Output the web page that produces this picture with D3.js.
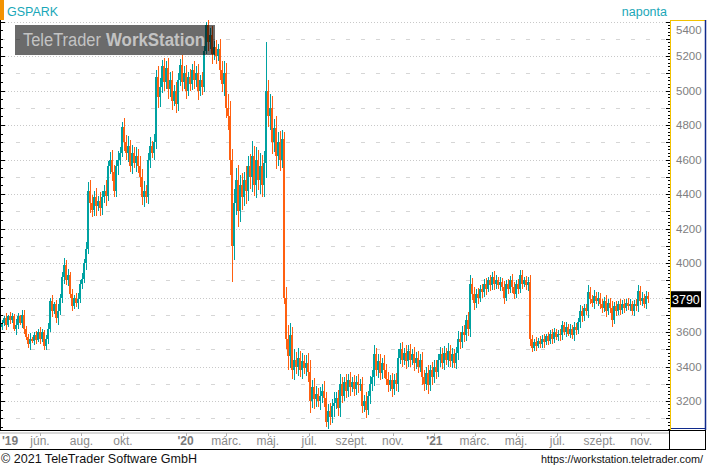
<!DOCTYPE html>
<html><head><meta charset="utf-8">
<script src="https://cdn.jsdelivr.net/npm/d3@7/dist/d3.min.js"></script>
<style>html,body{margin:0;padding:0;background:#fff;}svg{display:block;}</style>
</head><body>
<script>
// ---- DATA ----
const symbol = "GSPARK";
const period = "naponta";
const lastValue = 3790;
const startDate = new Date(2019, 3, 6);   // first bar
const stepDays = 2.94;                    // spacing between bars
const closes = [
3650,3680,3640,3690,3670,3690,3620,3640,3690,3650,
3700,3620,3570,3530,3560,3545,3580,3555,3600,3560,
3600,3520,3560,3620,3780,3720,3760,3680,3720,3800,
3920,3990,3900,3930,3820,3750,3800,3770,3790,3880,
3910,4000,4080,4420,4350,4310,4380,4330,4360,4320,
4380,4420,4390,4560,4600,4530,4420,4560,4600,4640,
4790,4700,4640,4680,4560,4640,4580,4620,4560,4500,
4380,4420,4380,4600,4680,4640,4700,5080,4960,5020,
5140,5050,5130,5010,5060,4940,5000,4920,5060,5150,
5050,5100,5000,5080,5040,5120,5060,5100,5000,5060,
5020,5230,5380,5280,5320,5210,5250,5200,5240,5120,
5040,5100,4900,4850,4600,4100,4350,4480,4300,4450,
4380,4480,4420,4560,4500,4620,4450,4600,4480,4560,
4450,4580,5000,4850,4900,4700,4780,4620,4700,4600,
4720,3800,3560,3460,3580,3380,3440,3400,3450,3380,
3430,3390,3420,3370,3200,3280,3210,3240,3200,3230,
3260,3220,3080,3140,3110,3170,3190,3220,3160,3300,
3230,3310,3260,3320,3280,3310,3270,3310,3290,3300,
3170,3200,3150,3230,3300,3340,3470,3380,3430,3360,
3420,3380,3330,3290,3320,3270,3320,3300,3450,3500,
3440,3480,3430,3490,3440,3470,3420,3450,3400,3440,
3340,3300,3360,3290,3380,3340,3400,3370,3440,3470,
3420,3480,3440,3490,3430,3470,3420,3480,3560,3540,
3600,3580,3670,3620,3880,3820,3770,3820,3800,3850,
3830,3880,3850,3900,3870,3920,3880,3900,3870,3890,
3860,3800,3880,3850,3900,3860,3820,3880,3850,3930,
3880,3900,3870,3890,3560,3510,3540,3520,3550,3530,
3560,3540,3575,3550,3590,3560,3600,3570,3590,3580,
3640,3600,3630,3590,3620,3580,3630,3610,3660,3720,
3690,3740,3720,3830,3790,3770,3810,3780,3800,3760,
3740,3780,3720,3770,3740,3670,3750,3720,3760,3730,
3760,3740,3770,3750,3760,3720,3760,3750,3840,3780,
3800,3760,3810,3790
];
// intra-bar range beyond open/close (price units, each side)
const ranges = [
20,15,30,10,25,20,15,35,20,10,
25,30,15,20,35,10,20,25,15,30,
20,10,25,30,20,35,15,25,40,20,
30,40,25,35,20,30,15,25,35,20,
30,25,40,30,60,45,35,55,30,50,
40,35,60,30,45,55,40,35,50,30,
25,50,40,55,35,45,30,50,40,60,
45,55,35,40,50,30,45,40,60,55,
35,50,40,60,45,55,30,50,40,35,
55,40,50,30,45,35,50,40,55,30,
45,30,20,50,40,55,35,45,30,60,
50,70,60,80,90,60,80,70,90,60,
70,50,80,60,70,90,60,75,55,80,
65,70,90,60,80,70,55,75,60,65,
50,40,60,80,70,50,60,45,55,40,
50,35,45,60,70,40,55,45,35,50,
40,55,30,45,50,40,60,35,45,55,
40,30,45,35,50,30,40,35,45,30,
40,35,50,30,45,40,55,35,45,40,
30,45,35,40,30,45,35,40,50,35,
40,30,45,35,40,30,45,35,40,30,
45,40,35,50,30,45,35,40,30,45,
35,40,30,45,35,40,30,35,45,40,
35,40,30,45,50,35,40,30,35,25,
30,25,35,20,30,25,35,30,20,30,
25,35,20,30,25,35,30,20,30,25,
30,20,25,30,40,25,20,30,15,25,
20,30,15,25,20,30,25,15,20,30,
25,20,30,15,25,20,30,25,20,35,
30,25,20,40,30,25,35,20,30,25,
30,25,35,20,30,40,25,30,20,30,
25,30,20,25,30,20,25,30,35,25,
30,20,25,20
];
// extreme wicks (bar index, price)
const wickIdx = [21, 43, 102, 115, 132, 141, 162, 259];
const wickVal = [3495, 4470, 5400, 3890, 5280, 3820, 3050, 3960];

const yTicksMajor = [3200,3400,3600,3800,4000,4200,4400,4600,4800,5000,5200,5400];
const xLabelDates = [new Date(2019,4,1),new Date(2019,5,1),new Date(2019,7,1),new Date(2019,9,1),
  new Date(2020,0,1),new Date(2020,2,1),new Date(2020,4,1),new Date(2020,6,1),new Date(2020,8,1),new Date(2020,10,1),
  new Date(2021,0,1),new Date(2021,2,1),new Date(2021,4,1),new Date(2021,6,1),new Date(2021,8,1),new Date(2021,10,1)];
const xLabelTexts = ["'19","jún.","aug.","okt.","'20","márc.","máj.","júl.","szept.","nov.","'21","márc.","máj.","júl.","szept.","nov."];
const xLabelBold = [true,false,false,false,true,false,false,false,false,false,true,false,false,false,false,false];

// ---- LAYOUT ----
const W = 707, H = 468;
const plotR = 669, plotT = 20, plotB = 430;
const TEAL = "#00a2a2", ORANGE = "#ff6010", GREY = "#8a8a8a";
const FONT = "'Liberation Sans', Arial, sans-serif";

const x = d3.scaleTime().domain([new Date(2019,5,1), new Date(2021,10,1)]).range([40, 641.1]);
const y = d3.scaleLinear().domain([4000, 5400]).range([263, 21.5]);

const svg = d3.select("body").append("svg").attr("width", W).attr("height", H)
  .style("font-family", FONT);

svg.append("defs").append("clipPath").attr("id","plotclip")
  .append("rect").attr("x",1).attr("y",plotT).attr("width",plotR-1).attr("height",plotB-plotT);

// header
svg.append("rect").attr("x",0).attr("y",0).attr("width",4).attr("height",20).attr("fill","#f39200");
svg.append("text").attr("x",7).attr("y",16).attr("font-size",12.5).attr("fill","#1aa7b8").text(symbol);
svg.append("text").attr("x",667).attr("y",16).attr("text-anchor","end").attr("font-size",12.5).attr("fill","#1aa7b8").text(period);

// gridlines
const gridVals = d3.range(3100, 5401, 100);
const grid = svg.append("g");
gridVals.forEach(v => {
  const yy = Math.round(y(v)) + 0.5;
  if (yy < plotT || yy > plotB) return;
  const major = v % 200 === 0;
  grid.append("line").attr("x1", 2).attr("x2", plotR - 2).attr("y1", yy).attr("y2", yy)
    .attr("stroke", major ? "#c8c8c8" : "#d6d6d6")
    .attr("stroke-dasharray", major ? "1,2" : "4,11")
    .attr("stroke-dashoffset", major ? 0 : -14);
});

// bars: 1px high-low wick plus 2px open-close body
const dates = closes.map((c, i) => new Date(+startDate + i * stepDays * 864e5));
const bars = closes.map((c, i) => {
  const o = i === 0 ? c - 20 : closes[i - 1];
  let lo = Math.min(o, c) - ranges[i], hi = Math.max(o, c) + ranges[i];
  const k = wickIdx.indexOf(i);
  if (k >= 0) { lo = Math.min(lo, wickVal[k]); hi = Math.max(hi, wickVal[k]); }
  return {d: dates[i], o, c, lo, hi};
});
const colorOf = d => d.c > d.o ? TEAL : d.c < d.o ? ORANGE : GREY;
const barG = svg.append("g").attr("clip-path","url(#plotclip)").attr("shape-rendering","crispEdges");
barG.selectAll("rect.w").data(bars).join("rect").attr("class","w")
  .attr("x", d => Math.round(x(d.d)))
  .attr("width", 1)
  .attr("y", d => y(d.hi))
  .attr("height", d => Math.max(2, y(d.lo) - y(d.hi)))
  .attr("fill", colorOf);
barG.selectAll("rect.b").data(bars).join("rect").attr("class","b")
  .attr("x", d => Math.round(x(d.d)) - 1)
  .attr("width", 2)
  .attr("y", d => y(Math.max(d.o, d.c)))
  .attr("height", d => Math.max(1, y(Math.min(d.o, d.c)) - y(Math.max(d.o, d.c))))
  .attr("fill", colorOf);

// watermark
svg.append("rect").attr("x",15).attr("y",25).attr("width",200).attr("height",30).attr("fill","#000").attr("opacity",0.58);
svg.append("text").attr("x",23).attr("y",46).attr("font-size",18).attr("fill","#c3c3c3")
  .attr("textLength",78).attr("lengthAdjust","spacingAndGlyphs").text("TeleTrader");
svg.append("text").attr("x",106).attr("y",46).attr("font-size",18).attr("font-weight","bold").attr("fill","#c3c3c3")
  .attr("textLength",99).attr("lengthAdjust","spacingAndGlyphs").text("WorkStation");

// left axis
svg.append("line").attr("x1",0.5).attr("x2",0.5).attr("y1",plotT).attr("y2",plotB).attr("stroke","#000");
d3.range(3050, 5401, 50).forEach(v => {
  const yy = Math.round(y(v)) + 0.5;
  if (yy < plotT || yy > plotB) return;
  svg.append("line").attr("x1",0).attr("x2", v % 200 === 0 ? 5 : 3).attr("y1",yy).attr("y2",yy).attr("stroke","#000");
});

// right axis panel
svg.append("line").attr("x1",670.5).attr("x2",670.5).attr("y1",plotT).attr("y2",plotB).attr("stroke","#f2c200");
svg.append("line").attr("x1",670).attr("x2",706).attr("y1",20.5).attr("y2",20.5).attr("stroke","#f2c200");
svg.append("line").attr("x1",705.5).attr("x2",705.5).attr("y1",20).attr("y2",430).attr("stroke","#102a8c").attr("stroke-width",1.5);
svg.append("line").attr("x1",671).attr("x2",706).attr("y1",428.5).attr("y2",428.5).attr("stroke","#102a8c");
d3.range(3040, 5401, 20).forEach(v => {
  const yy = Math.round(y(v)) + 0.5;
  if (yy < plotT || yy > plotB) return;
  const len = v % 100 === 0 ? 4 : 2;
  svg.append("line").attr("x1",670 - len).attr("x2",670).attr("y1",yy).attr("y2",yy).attr("stroke","#000");
});
yTicksMajor.forEach(v => {
  if (Math.abs(y(v) - y(lastValue)) < 12) return; // hidden behind the last-value box
  svg.append("text").attr("x",676).attr("y", Math.max(y(v), 30) + 4.2).attr("font-size",11.5).attr("fill","#808080").text(v);
});
// last value box
svg.append("rect").attr("x",671).attr("y",y(lastValue) - 8).attr("width",30).attr("height",16).attr("fill","#000");
svg.append("text").attr("x",672).attr("y",y(lastValue) + 4.5).attr("font-size",12.5).attr("fill","#fff").text(lastValue);

// bottom axis strip
svg.append("line").attr("x1",0).attr("x2",706).attr("y1",430.5).attr("y2",430.5).attr("stroke","#000").attr("stroke-width",1.2);
svg.append("line").attr("x1",0).attr("x2",669).attr("y1",433).attr("y2",433).attr("stroke","#b0b0b0");
svg.append("line").attr("x1",0).attr("x2",706).attr("y1",449.5).attr("y2",449.5).attr("stroke","#000");
svg.append("line").attr("x1",669.5).attr("x2",669.5).attr("y1",430).attr("y2",450).attr("stroke","#000");
svg.append("line").attr("x1",705.5).attr("x2",705.5).attr("y1",430).attr("y2",450).attr("stroke","#000");
xLabelDates.forEach((d, i) => {
  const xx = x(d);
  if (i > 0) svg.append("line").attr("x1",Math.round(xx)+0.5).attr("x2",Math.round(xx)+0.5).attr("y1",433).attr("y2",436).attr("stroke","#b0b0b0");
  const t = svg.append("text").attr("y",445).attr("font-size",12).attr("fill", xLabelBold[i] ? "#7a7a7a" : "#8a8a8a")
    .attr("font-weight", xLabelBold[i] ? "bold" : "normal").text(xLabelTexts[i]);
  if (i === 0) t.attr("x", 2).attr("text-anchor","start");
  else t.attr("x", xx).attr("text-anchor","middle");
});

// footer
svg.append("text").attr("x",1).attr("y",463).attr("font-size",13).attr("fill","#111")
  .attr("textLength",196).attr("lengthAdjust","spacingAndGlyphs").text("© 2021 TeleTrader Software GmbH");
svg.append("text").attr("x",541).attr("y",463).attr("font-size",11).attr("fill","#111")
  .style("font-family","'Liberation Sans Narrow', 'Liberation Sans', Arial, sans-serif")
  .attr("textLength",162).attr("lengthAdjust","spacingAndGlyphs").text("https://workstation.teletrader.com/");
</script>
</body></html>
